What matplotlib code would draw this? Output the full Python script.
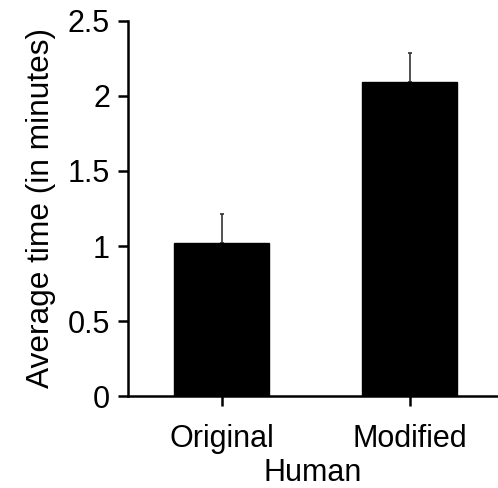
import matplotlib
matplotlib.use("Agg")
import matplotlib.pyplot as plt

categories = ["Original", "Modified"]
mean_time = [1.02, 2.09]
err_time = [0.19, 0.195]
y_ticks = [0, 0.5, 1, 1.5, 2, 2.5]
y_tick_labels = ["0", "0.5", "1", "1.5", "2", "2.5"]

plt.rcParams["font.family"] = ["Liberation Sans", "DejaVu Sans"]
FS = 22

fig = plt.figure(figsize=(4.98, 4.88), dpi=100)
ax = fig.add_axes([0.257, 0.1885, 0.743, 0.7685])

x = list(range(len(categories)))
ax.bar(x, mean_time, width=0.505, color="black", edgecolor="black", zorder=2)
ax.errorbar(x, mean_time, yerr=[[0, 0], err_time], fmt="none",
            ecolor="#333333", elinewidth=1.2, capsize=1.5, capthick=1.2, zorder=1)

ax.set_xlim(-0.5, 1.47)
ax.set_ylim(0, 2.5)
ax.set_xticks(x)
ax.set_xticklabels(categories, fontsize=FS)
ax.set_yticks(y_ticks)
ax.set_yticklabels(y_tick_labels, fontsize=FS)
ax.set_ylabel("Average time (in minutes)", fontsize=22.8, labelpad=8)
ax.set_xlabel("Human", fontsize=FS, labelpad=3)

for side in ["top", "right"]:
    ax.spines[side].set_visible(False)
for side in ["left", "bottom"]:
    ax.spines[side].set_linewidth(1.8)
ax.tick_params(axis="y", direction="out", length=7, width=1.8, pad=6)
ax.tick_params(axis="x", direction="out", length=7, width=1.8, pad=13)

fig.savefig("out.png", dpi=100)
